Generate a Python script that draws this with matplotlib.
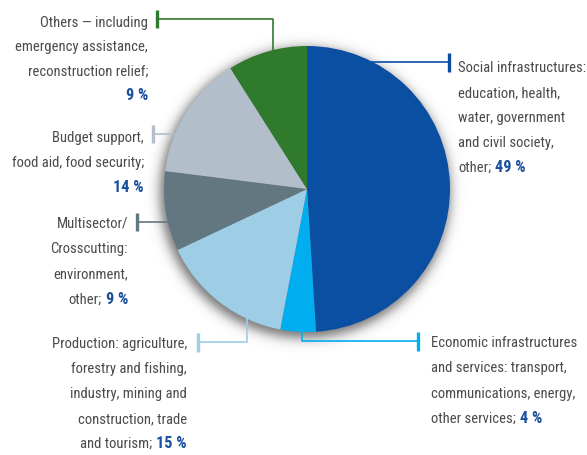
import numpy as np
import matplotlib
matplotlib.use("Agg")
import matplotlib.pyplot as plt
from matplotlib import font_manager

# ---- data -------------------------------------------------------------
sectors = ["Social infrastructures", "Economic infrastructures", "Production",
           "Multisector/Crosscutting", "Budget support", "Others"]
shares = [49, 4, 15, 9, 14, 9]
slice_colors = ["#0b4fa3", "#00aeef", "#9ecde6", "#62777f", "#b2bfca", "#2f7a2c"]

label_lines = [
    ["Social infrastructures:", "education, health,", "water, government",
     "and civil society,", "other;"],
    ["Economic infrastructures", "and services: transport,",
     "communications, energy,", "other services;"],
    ["Production: agriculture,", "forestry and fishing,", "industry, mining and",
     "construction, trade", "and tourism;"],
    ["Multisector/", "Crosscutting:", "environment,", "other;"],
    ["Budget support,", "food aid, food security;", ""],
    ["Others \u2014 including", "emergency assistance,", "reconstruction relief;", ""],
]

# ---- figure in pixel units -------------------------------------------
W, H = 587, 455
fig = plt.figure(figsize=(W / 100, H / 100), dpi=100)
ax = fig.add_axes([0, 0, 1, 1])

available = {f.name for f in font_manager.fontManager.ttflist}
family = "Liberation Sans"
for cand in ["Liberation Sans Narrow", "DejaVu Sans Condensed", "Roboto Condensed",
             "Open Sans Condensed", "Liberation Sans"]:
    if cand in available:
        family = cand
        break

FS = 10.5
TEXT_COLOR = "#4a4a4a"
PCT_COLOR = "#1a4f9e"

CX, CY, R = 307, 189, 143          # pie centre / radius (pixels from top-left)


def Y(y):
    return H - y


# soft drop shadow under the pie
yy, xx = np.mgrid[0:H, 0:W] + 0.5
d = np.hypot(xx - (CX - 2), yy - (CY + 4))
alpha = 0.55 * 0.5 * (1 - np.tanh((d - (R + 2)) / 7.0))
shadow = np.zeros((H, W, 4))
shadow[..., 3] = alpha
ax.imshow(shadow, extent=(0, W, 0, H), origin="upper", zorder=1,
          interpolation="bilinear")

wedges, _ = ax.pie(shares, colors=slice_colors, startangle=90, counterclock=False,
                   center=(CX, Y(CY)), radius=R,
                   wedgeprops=dict(linewidth=0, zorder=3))
for w in wedges:
    w.set_zorder(3)

ax.set_xlim(0, W)
ax.set_ylim(0, H)
ax.set_aspect("auto")
ax.axis("off")

# leader lines: polyline (starting under the pie) and end tick
leaders = [
    ([(360, 62), (449, 62)], 449, (53, 72)),
    ([(302, 325), (302, 341), (418, 341)], 418, (332, 351)),
    ([(247, 310), (247, 342), (198, 342)], 198, (333, 352)),
    ([(180, 222), (137, 222)], 137, (213, 231)),
    ([(190, 134), (153, 134)], 153, (125, 143)),
    ([(273, 60), (273, 19), (157, 19)], 157, (10, 28)),
]
for (path, tx, (t0, t1)), col in zip(leaders, slice_colors):
    xs = [p[0] for p in path]
    ys = [Y(p[1]) for p in path]
    ax.plot(xs, ys, color=col, lw=1.2, zorder=2, solid_capstyle="butt")
    ax.plot([tx, tx], [Y(t0), Y(t1)], color=col, lw=2.4, zorder=2,
            solid_capstyle="butt")

# label anchors: x, first baseline, line step, alignment
anchors = [
    (458, 72, 25.0, "left"),
    (431, 347, 25.3, "left"),
    (187, 348, 25.0, "right"),
    (128, 228, 25.3, "right"),
    (144, 142, 25.0, "right"),
    (148, 27, 24.5, "right"),
]

fig.canvas.draw()
renderer = fig.canvas.get_renderer()
GAP = 4

for lines, share, (x, y0, step, ha) in zip(label_lines, shares, anchors):
    for i, line in enumerate(lines):
        yb = Y(y0 + i * step)
        last = i == len(lines) - 1
        if not last:
            ax.text(x, yb, line, ha=ha, va="baseline", fontsize=FS,
                    family=family, color=TEXT_COLOR, zorder=4)
            continue
        pct = f"{share} %"
        if ha == "left":
            t = ax.text(x, yb, line, ha="left", va="baseline", fontsize=FS,
                        family=family, color=TEXT_COLOR, zorder=4)
            wn = t.get_window_extent(renderer).width if line else -GAP
            ax.text(x + wn + GAP, yb, pct, ha="left", va="baseline",
                    fontsize=FS + 1.2, family=family, weight="bold",
                    color=PCT_COLOR, zorder=4)
        else:
            b = ax.text(x, yb, pct, ha="right", va="baseline", fontsize=FS + 1.2,
                        family=family, weight="bold", color=PCT_COLOR, zorder=4)
            if line:
                wb = b.get_window_extent(renderer).width
                ax.text(x - wb - GAP, yb, line, ha="right", va="baseline",
                        fontsize=FS, family=family, color=TEXT_COLOR, zorder=4)

fig.savefig("out.png", dpi=100)
